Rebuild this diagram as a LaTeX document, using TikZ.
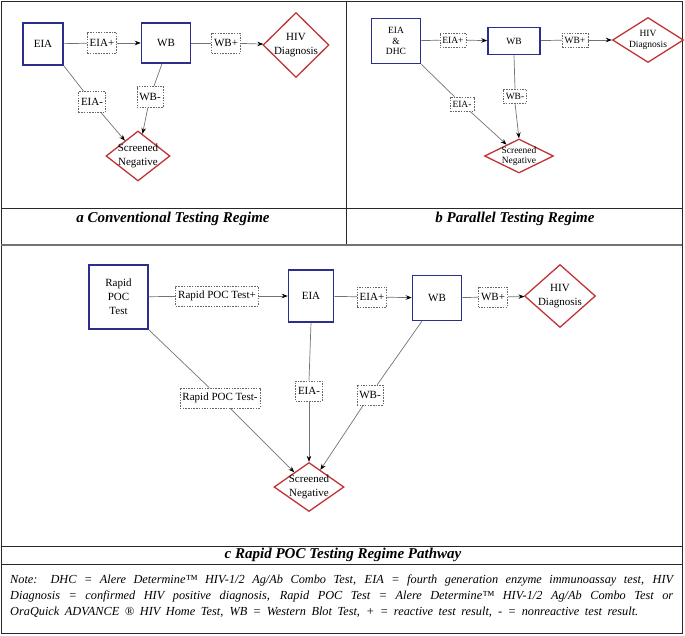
\documentclass[tikz,border=0pt]{standalone}
\usepackage{fontspec}
\setmainfont{Liberation Serif}
\usetikzlibrary{shapes.geometric,arrows.meta,calc}
\definecolor{boxblue}{RGB}{43,46,140}
\definecolor{diared}{RGB}{192,52,52}
\definecolor{edgegray}{RGB}{115,115,115}
\definecolor{framecol}{RGB}{40,40,40}
\begin{document}
\begin{tikzpicture}[x=1pt,y=-1pt,
  tbox/.style={draw=boxblue, line width=1.5pt, fill=white, inner sep=1pt, align=center},
  dia/.style={diamond, draw=diared, line width=1.3pt, fill=white, inner sep=0pt},
  lbl/.style={draw=black!60, dash pattern=on 1.5pt off 1.2pt, fill=white, inner xsep=2.5pt, inner ysep=0pt, line width=0.6pt},
  conn/.style={draw=edgegray, line width=0.7pt},
  arr/.style={conn, -{Stealth[length=6pt,width=4.5pt,black]}},
  framel/.style={draw=framecol, line width=1pt},
  fa/.style={font=\fontsize{11}{13.5}\selectfont},
  fb/.style={font=\fontsize{9.5}{10.5}\selectfont},
  fc/.style={font=\fontsize{11}{14}\selectfont},
  captext/.style={font=\fontsize{15}{17}\selectfont\bfseries\itshape},
  notetext/.style={font=\fontsize{12.3}{16}\selectfont\itshape, anchor=west, inner sep=0pt}
]
\useasboundingbox (0,0) rectangle (685,635);
% frame
\draw[framel] (1,1) rectangle (682,633);
\draw[framel] (346,1) -- (346,245);
\draw[framel] (1,208) -- (682,208);
\draw[framel, draw=black!55, line width=1.3pt] (1,245) -- (682,245);
\draw[framel] (1,546) -- (682,546);
\draw[framel] (1,564) -- (682,564);

% ---------------- panel a
\node[tbox, fa, minimum width=40pt, minimum height=42pt] (eiaA) at (43,44) {EIA};
\node[tbox, fa, minimum width=49pt, minimum height=40pt] (wbA) at (166,43) {WB};
\node[dia, minimum width=66pt, minimum height=65pt,
      label={[fa, align=center]center:HIV\\Diagnosis}] (hivA) at (296,45) {};
\node[dia, minimum width=64pt, minimum height=50pt,
      label={[fa, align=center]center:Screened\\Negative}] (snA) at (138,156) {};
\node[lbl, fa, minimum height=21pt] (eiapA) at (102,43) {EIA+};
\node[lbl, fa, minimum height=20pt] (wbpA) at (226,43) {WB+};
\node[lbl, fa, minimum height=21pt] (eiamA) at (92,102) {EIA-};
\node[lbl, fa, minimum height=21pt] (wbmA) at (150,97) {WB-};
\draw[conn] (eiaA) -- (eiapA);
\draw[arr] (eiapA) -- (wbA);
\draw[conn] (wbA) -- (wbpA);
\draw[arr] (wbpA) -- (hivA);
\draw[conn] (eiaA.south east) -- (eiamA);
\draw[arr] (eiamA) -- (snA);
\draw[conn] ($(wbA.south)+(-4,0)$) -- (wbmA);
\draw[arr] (wbmA) -- (snA);
\node[captext] (capA) at (173,219) {a Conventional Testing Regime};

% ---------------- panel b
\node[tbox, fb, minimum width=49pt, minimum height=45pt] (eiaB) at (396,41) {EIA\\\&\\DHC};
\node[tbox, fb, minimum width=52pt, minimum height=27pt] (wbB) at (514,41) {WB};
\node[dia, minimum width=71pt, minimum height=45pt,
      label={[fb, align=center]center:HIV\\Diagnosis}] (hivB) at (648,40) {};
\node[dia, minimum width=69pt, minimum height=34pt,
      label={[fb, align=center]center:Screened\\Negative}] (snB) at (519,156) {};
\node[lbl, fb, minimum height=14pt] (eiapB) at (453,40) {EIA+};
\node[lbl, fb, minimum height=14pt] (wbpB) at (575,40) {WB+};
\node[lbl, fb, minimum height=14pt] (eiamB) at (462,104) {EIA-};
\node[lbl, fb, minimum height=14pt] (wbmB) at (515,96) {WB-};
\draw[conn] (eiaB) -- (eiapB);
\draw[arr] (eiapB) -- (wbB);
\draw[conn] (wbB) -- (wbpB);
\draw[arr] (wbpB) -- (hivB);
\draw[conn] (eiaB.south east) -- (eiamB);
\draw[arr] (eiamB) -- (snB);
\draw[conn] (wbB.south) -- (wbmB.north);
\draw[arr] (wbmB.south) -- (snB.north);
\node[captext] (capB) at (515,219) {b Parallel Testing Regime};

% ---------------- panel c
\node[tbox, fc, minimum width=59pt, minimum height=64pt] (rptC) at (118.5,297) {Rapid\\POC\\Test};
\node[tbox, fc, minimum width=45pt, minimum height=52pt] (eiaC) at (311,296) {EIA};
\node[tbox, fc, minimum width=49pt, minimum height=45pt] (wbC) at (437,298) {WB};
\node[dia, minimum width=71pt, minimum height=63pt,
      label={[fc, align=center]center:HIV\\Diagnosis}] (hivC) at (560,296) {};
\node[dia, minimum width=70pt, minimum height=49pt,
      label={[fc, align=center]center:Screened\\Negative}] (snC) at (309,487) {};
\node[lbl, fc, minimum height=20pt] (rptpC) at (217,296) {Rapid POC Test+};
\node[lbl, fc, minimum height=20pt] (eiapC) at (372,297) {EIA+};
\node[lbl, fc, minimum height=20pt] (wbpC) at (493,297) {WB+};
\node[lbl, fc, minimum height=20pt] (rptmC) at (220,398) {Rapid POC Test-};
\node[lbl, fc, minimum height=20pt] (eiamC) at (309,391) {EIA-};
\node[lbl, fc, minimum height=20pt] (wbmC) at (370,395) {WB-};
\draw[conn] (rptC) -- (rptpC);
\draw[arr] (rptpC) -- (eiaC);
\draw[conn] (eiaC) -- (eiapC);
\draw[arr] (eiapC) -- (wbC);
\draw[conn] (wbC) -- (wbpC);
\draw[arr] (wbpC) -- (hivC);
\draw[conn] (rptC.south east) -- (rptmC);
\draw[arr] (rptmC) -- (snC);
\draw[conn] (eiaC.south) -- (eiamC.north);
\draw[arr] (eiamC.south) -- (snC.north);
\draw[conn] ($(wbC.south)!0.6!(wbC.south west)$) -- (wbmC);
\draw[arr] (wbmC) -- (snC);
\node[captext] (capC) at (343,555) {c Rapid POC Testing Regime Pathway};

% ---------------- note
\node[notetext] (n1) at (10,580) {\makebox[663pt][s]{Note: DHC = Alere Determine™ HIV-1/2 Ag/Ab Combo Test, EIA = fourth generation enzyme immunoassay test, HIV}};
\node[notetext] (n2) at (10,596) {\makebox[663pt][s]{Diagnosis = confirmed HIV positive diagnosis, Rapid POC Test = Alere Determine™ HIV-1/2 Ag/Ab Combo Test or}};
\node[notetext] (n3) at (10,612) {\makebox[628pt][s]{OraQuick ADVANCE ® HIV Home Test, WB = Western Blot Test, + = reactive test result, - = nonreactive test result.}};
\end{tikzpicture}
\end{document}
